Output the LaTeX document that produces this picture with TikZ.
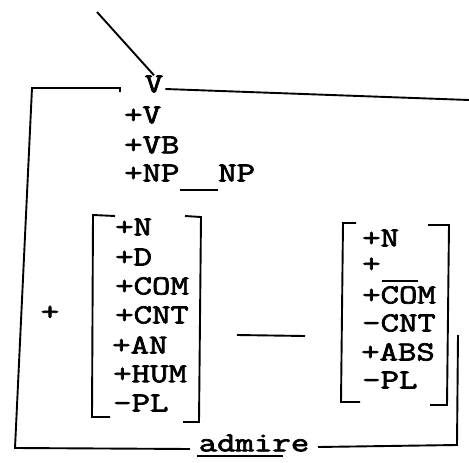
\documentclass[tikz,border=0pt]{standalone}
\usepackage{fontspec}
\newfontfamily\tw[FakeStretch=1.3,FakeBold=2.6]{Latin Modern Mono}
\tikzset{
  lbl/.style={anchor=west, inner sep=0pt, font=\tw\fontsize{27.5}{27.5}\selectfont},
  ln/.style={line width=1.9pt},
}
\begin{document}
\begin{tikzpicture}[x=1pt,y=-1pt]
\useasboundingbox (0,0) rectangle (469,463);
% diagonal
\coordinate (d0) at (97,12);
\node[lbl, anchor=center] (V) at (154,84) {V};
\draw[ln] (d0) -- (V.north);
% frame
\draw[ln] (120,92) -- (120,88) -- (32,88) -- (15,448) -- (190,449);
\draw[ln] (V.east) ++(2,5) -- (469,100);
\draw[ln] (318,447) -- (457,445) -- (458,335);
% top features
\node[lbl] (fV) at (124,115) {+V};
\node[lbl] (fVB) at (124,145) {+VB};
\node[lbl] (fNP) at (124,173) {+NP};
\node[lbl] (fNP2) at (218,173) {NP};
\draw[ln] (180,190) -- (218,190);
% left plus
\node[lbl, anchor=center] (plus) at (50,313) {+};
% left bracket group
\node[lbl] (a1) at (115,227) {+N};
\node[lbl] (a2) at (115,257) {+D};
\node[lbl] (a3) at (115,286) {+COM};
\node[lbl] (a4) at (115,315) {+CNT};
\node[lbl] (a5) at (112,345) {+AN};
\node[lbl] (a6) at (113,374) {+HUM};
\node[lbl] (a7) at (113,403) {-PL};
\draw[ln] (115,216) -- (93,215) -- (92,417) -- (110,417);
\draw[ln] (185,216) -- (201,217) -- (199,422) -- (183,422);
% middle dash
\draw[ln] (237,335) -- (305,336);
% right bracket group
\node[lbl] (b1) at (362,238) {+N};
\node[lbl] (b2) at (362,265) {+};
\node[lbl] (b3) at (362,295) {+COM};
\node[lbl] (b4) at (362,323) {-CNT};
\node[lbl] (b5) at (361,352) {+ABS};
\node[lbl] (b6) at (362,380) {-PL};
\draw[ln] (382,281) -- (418,281);
\draw[ln] (356,223) -- (343,223) -- (341,402) -- (360,402);
\draw[ln] (428,225) -- (449,225) -- (447,405) -- (430,405);
% bottom word
\node[lbl, anchor=center] (adm) at (254,443) {admire};
\draw[ln] (197,456) -- (283,456);
\end{tikzpicture}
\end{document}
